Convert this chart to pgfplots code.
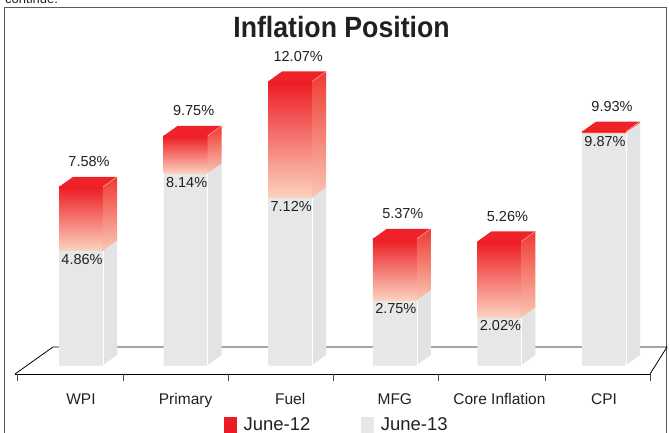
\documentclass[border=0pt]{standalone}
\usepackage{pgfplots}
\pgfplotsset{compat=1.18}
\usepackage{pgfplotstable}
\usepackage{fontspec}
\setmainfont{Liberation Sans}
\usepackage{graphicx}
\definecolor{barred}{HTML}{ED1C24}
\definecolor{peach}{HTML}{FCD3C0}
\definecolor{topred}{HTML}{EF2229}
\definecolor{sidetop}{HTML}{EF3A32}
\definecolor{sidebot}{HTML}{FAC7B3}
\definecolor{bargrey}{HTML}{E6E7E8}
\definecolor{sidegrey}{HTML}{E2E3E5}
\definecolor{txt}{HTML}{231F20}
\definecolor{framec}{HTML}{5A5A5A}
\pgfdeclareplotmark{nothing}{}
\pgfplotstableread{
idx j12 j13
0 7.58 4.86
1 9.75 8.14
2 12.07 7.12
3 5.37 2.75
4 5.26 2.02
5 9.93 9.87
}\inflation
% 3D faces of one bar: #1 left, #2 right, #3 side edge, #4 top back-left (x);
% #5 June-12, #6 June-13, #7 June-12 + depth, #8 June-13 + depth (y)
\newcommand{\faces}[8]{%
  \addplot[draw=none, top color=barred, bottom color=peach, forget plot] coordinates {(#1,#6) (#2,#6) (#2,#5) (#1,#5)} -- cycle;
  \addplot[draw=none, top color=sidetop, bottom color=sidebot, forget plot] coordinates {(#2,#6) (#3,#8) (#3,#7) (#2,#5)} -- cycle;
  \addplot[draw=none, fill=topred, forget plot] coordinates {(#1,#5) (#2,#5) (#3,#7) (#4,#7)} -- cycle;
  \addplot[draw=white!60!topred, line width=0.5pt, forget plot] coordinates {(#2,#5) (#3,#7)};
  \addplot[draw=none, fill=sidegrey, forget plot] coordinates {(#2,0) (#3,0.4255) (#3,#8) (#2,#6)} -- cycle;
  \addplot[draw=white, line width=0.6pt, forget plot] coordinates {(#2,0) (#2,#6)};
}
\begin{document}
\begin{tikzpicture}[x=1pt,y=1pt]
\path[use as bounding box] (0,0) rectangle (669,432);
\draw[framec, line width=1.2pt] (4.5,-10) rectangle (666.5,424.3);
\node[anchor=base west, font=\fontsize{13}{15}\selectfont, text=txt, inner sep=0] at (5,428) {continue.};
\node[anchor=base, font=\fontsize{29.3}{32}\selectfont\bfseries, text=txt, inner sep=0] at (341.5,394.3) {\scalebox{0.91}[1]{Inflation Position}};
\begin{axis}[
  at={(81pt,67pt)}, anchor=origin,
  x=104.6pt, y=23.5pt,
  xmin=-0.631, xmax=5.44, ymin=-0.383, ymax=13,
  clip=false,
  axis x line*=bottom, axis y line=none,
  x axis line style={black, line width=0.8pt},
  xtick={0,...,5}, xticklabels={WPI,Primary,Fuel,MFG,Core Inflation,CPI},
  major tick length=0pt,
  xticklabel style={font=\fontsize{15.5}{17}\selectfont, text=txt, anchor=base, yshift=-30pt},
  extra x ticks={-0.612,0.402,1.405,2.409,3.413,4.436,5.44},
  extra x tick labels={},
  extra x tick style={major tick length=7pt, tick align=outside, tick style={black!70, line width=0.8pt}},
  /pgf/number format/assume math mode=true,
  legend style={at={(0.507,-0.162)}, anchor=center, draw=none, fill=none,
    legend columns=2, font=\fontsize{18.5}{20}\selectfont, text=txt,
    /tikz/every even column/.append style={column sep=49pt}},
]
\draw[black, line width=0.8pt] (axis cs:-0.631,-0.383) -- (axis cs:-0.268,0.766) -- (axis cs:5.602,0.766) -- (axis cs:5.44,-0.383);
% June-12 bars (full height) and June-13 bars in front
\addplot[ybar, bar width=42.5pt, bar shift=0pt, fill=barred, draw=none, forget plot] table[x=idx, y=j12] {\inflation};
\addplot[ybar, bar width=44pt, bar shift=0pt, fill=bargrey, draw=none, forget plot] table[x=idx, y=j13] {\inflation};
% gradient fronts and 3D faces
\faces{-0.2103}{0.2103}{0.3442}{-0.0765}{7.58}{4.86}{8.0055}{5.2855}
\faces{0.7897}{1.2103}{1.3442}{0.9235}{9.75}{8.14}{10.1755}{8.5655}
\faces{1.7897}{2.2103}{2.3442}{1.9235}{12.07}{7.12}{12.4955}{7.5455}
\faces{2.7897}{3.2103}{3.3442}{2.9235}{5.37}{2.75}{5.7955}{3.1755}
\faces{3.7897}{4.2103}{4.3442}{3.9235}{5.26}{2.02}{5.6855}{2.4455}
\faces{4.7897}{5.2103}{5.3442}{4.9235}{9.93}{9.87}{10.3555}{10.2955}
% value labels
\addplot[forget plot, only marks, mark=nothing,
  point meta=\thisrow{j12},
  nodes near coords={\pgfmathprintnumber[fixed,fixed zerofill,precision=2]{\pgfplotspointmeta}\%},
  every node near coord/.append style={anchor=base, yshift=20pt, xshift=8pt, font=\fontsize{14.5}{16}\selectfont, text=txt, inner sep=0pt},
] table[x=idx, y=j12] {\inflation};
\addplot[forget plot, only marks, mark=nothing,
  point meta=\thisrow{j13},
  nodes near coords={\pgfmathprintnumber[fixed,fixed zerofill,precision=2]{\pgfplotspointmeta}\%},
  every node near coord/.append style={anchor=north, yshift=-3pt, xshift=1pt, font=\fontsize{14.5}{16}\selectfont, text=txt, inner sep=0pt},
] table[x=idx, y=j13] {\inflation};
\addlegendimage{legend image code/.code={\fill[barred] (0pt,-7.5pt) rectangle (12pt,7.5pt); \path (17pt,0pt);}}
\addlegendentry{June-12}
\addlegendimage{legend image code/.code={\fill[bargrey] (0pt,-7.5pt) rectangle (12pt,7.5pt); \path (17pt,0pt);}}
\addlegendentry{June-13}
\end{axis}
\end{tikzpicture}
\end{document}
